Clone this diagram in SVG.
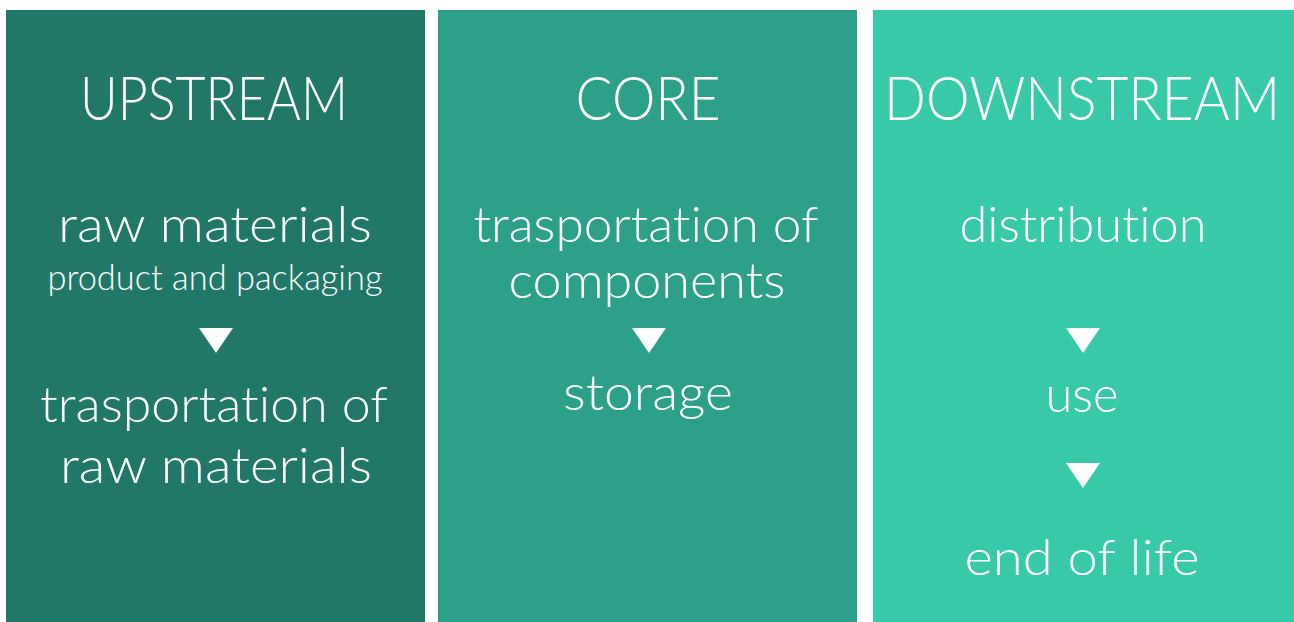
<svg xmlns="http://www.w3.org/2000/svg" width="1294" height="622" viewBox="0 0 1294 622">
<style>
text{font-family:Lato,"Open Sans","Liberation Sans",sans-serif;font-weight:300;fill:#ffffff;text-anchor:middle;font-variant-ligatures:none;font-feature-settings:"liga" 0,"dlig" 0}
.h{font-size:62px}
.hd{font-size:58px}
.m{font-size:50px}
.s{font-size:35px}
.tri{fill:#ffffff}
</style>
<defs>
<polygon id="tri" class="tri" points="-17,0 17,0 0,25"/>
</defs>
<rect width="1294" height="622" fill="#ffffff"/>
<g id="upstream">
<rect x="6" y="10" width="419" height="612" fill="#217868"/>
<text class="h" x="214" y="120" textLength="268" lengthAdjust="spacingAndGlyphs">UPSTREAM</text>
<text class="m" x="215" y="242" textLength="314" lengthAdjust="spacingAndGlyphs">raw materials</text>
<text class="s" x="215" y="290" textLength="335" lengthAdjust="spacingAndGlyphs">product and packaging</text>
<use href="#tri" x="216" y="328"/>
<text class="m" x="214" y="422" textLength="348" lengthAdjust="spacingAndGlyphs">trasportation of</text>
<text class="m" x="216" y="483" textLength="312" lengthAdjust="spacingAndGlyphs">raw materials</text>
</g>
<g id="core">
<rect x="438" y="10" width="419" height="612" fill="#2ca088"/>
<text class="h" x="648" y="120" textLength="145" lengthAdjust="spacingAndGlyphs">CORE</text>
<text class="m" x="646" y="242" textLength="345" lengthAdjust="spacingAndGlyphs">trasportation of</text>
<text class="m" x="647" y="298" textLength="277" lengthAdjust="spacingAndGlyphs">components</text>
<use href="#tri" x="649" y="328"/>
<text class="m" x="648" y="410" textLength="170" lengthAdjust="spacingAndGlyphs">storage</text>
</g>
<g id="downstream">
<rect x="873" y="10" width="421" height="612" fill="#38c9a8"/>
<text class="hd" x="1082" y="120" textLength="396" lengthAdjust="spacingAndGlyphs" transform="translate(1082 120) scale(1 1.07) translate(-1082 -120)">DOWNSTREAM</text>
<text class="m" x="1083" y="242" textLength="247" lengthAdjust="spacingAndGlyphs">distribution</text>
<use href="#tri" x="1083" y="328"/>
<text class="m" x="1082" y="412" textLength="73" lengthAdjust="spacingAndGlyphs">use</text>
<use href="#tri" x="1083" y="463"/>
<text class="m" x="1082" y="575" textLength="235" lengthAdjust="spacingAndGlyphs">end of life</text>
</g>
<g id="connectors"></g>
</svg>
